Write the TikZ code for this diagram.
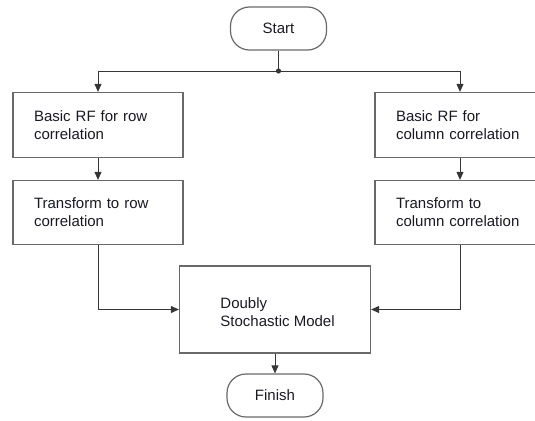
\documentclass[tikz,border=0pt]{standalone}
\usepackage{fontspec}
\setmainfont{Liberation Sans}
\usetikzlibrary{positioning}
\usetikzlibrary{arrows.meta}

\definecolor{boxline}{RGB}{105,105,105}
\definecolor{wire}{RGB}{55,55,55}
\definecolor{ink}{RGB}{25,25,35}

\begin{document}
\begin{tikzpicture}[x=1pt, y=-1pt,
  every node/.style={font=\fontsize{15}{18}\selectfont, text=ink},
  terminal/.style={draw=boxline, line width=1.2pt, rounded corners=19pt,
    minimum width=96pt, minimum height=43pt},
  stepbox/.style={draw=boxline, line width=1.2pt, align=left,
    text width=128pt, inner xsep=21pt, minimum height=65pt},
  flow/.style={draw=wire, line width=0.9pt, -{Triangle[width=7pt,length=8pt]}}]

\clip (0,0) rectangle (535,420);

% Column positions
\def\leftx{98}
\def\rightx{460}
\def\midx{275}

% Start / finish
\node[terminal] (start) at (278.5,28.5) {Start};
\node[terminal] (finish) at (\midx,395.5) {Finish};

% Row branch
\node[stepbox] (rowrf) at (\leftx,125) {Basic RF for row\\correlation};
\node[stepbox, minimum height=64pt] (rowtf) at (\leftx,212.5) {Transform to row\\correlation};

% Column branch
\node[stepbox] (colrf) at (\rightx,125) {Basic RF for\\column correlation};
\node[stepbox, minimum height=64pt] (coltf) at (\rightx,212.5) {Transform to\\column correlation};

% Model
\node[draw=boxline, line width=1.2pt, minimum width=191pt, minimum height=87pt,
  label={[anchor=west, xshift=38pt, yshift=-3pt, align=left, name=modeltext]west:Doubly\\Stochastic Model}]
  (model) at (\midx,309.5) {};

% Split point
\coordinate (split) at (278.5,71);
\draw[draw=wire, line width=0.9pt] (start) -- (split);
\fill[wire] (split) circle (2.6pt);

\draw[flow] (split) -| (rowrf.north);
\draw[flow] (split) -| (colrf.north);
\draw[flow] (rowrf) -- (rowtf);
\draw[flow] (colrf) -- (coltf);
\draw[flow] (rowtf.south) |- (model.west);
\draw[flow] (coltf.south) |- (model.east);
\draw[flow] (model) -- (finish);

\end{tikzpicture}
\end{document}
